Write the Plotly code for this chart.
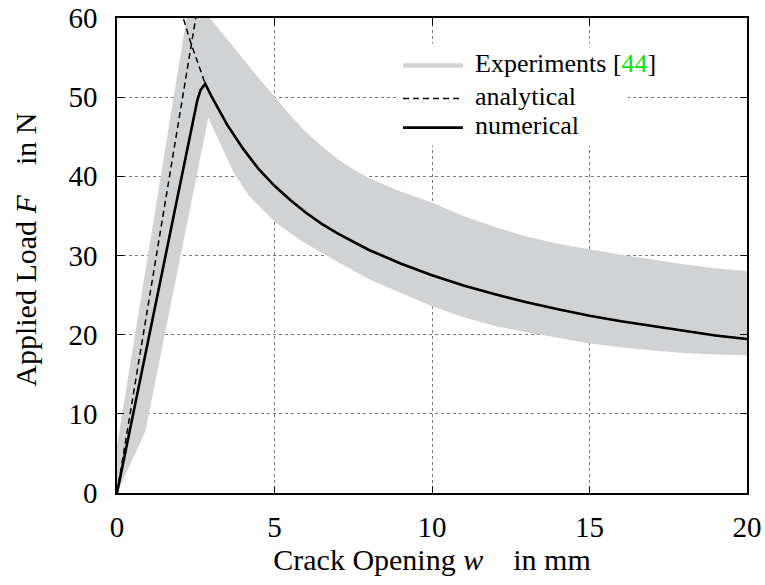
import plotly.graph_objects as go

# ---- data ----
# experimental band: upper edge (x ascending) and lower edge (x descending)
band_upper_w = [0.0, 2.45, 2.95, 3.5, 4.0, 4.5, 5.0, 5.5, 6.0, 6.5, 7.0, 7.5, 8.0, 9.0, 10.0, 11.0, 12.0, 13.0, 14.0, 15.0, 16.0, 17.0, 18.0, 19.0, 20.0]
band_upper_F = [6.0, 66.0, 60.0, 57.3, 54.8, 52.4, 50.1, 47.7, 45.6, 43.8, 42.2, 40.9, 39.8, 38.1, 36.7, 35.0, 33.6, 32.4, 31.5, 30.8, 30.1, 29.5, 28.9, 28.4, 28.0]
band_lower_w = [20.0, 19.0, 18.0, 17.0, 16.0, 15.0, 14.0, 13.0, 12.0, 11.0, 10.0, 9.0, 8.0, 7.0, 6.0, 5.5, 5.0, 4.2, 3.7, 3.2, 2.9, 0.9, 0.0]
band_lower_F = [17.4, 17.5, 17.7, 18.0, 18.4, 18.9, 19.6, 20.3, 21.1, 22.2, 23.6, 25.3, 27.0, 29.2, 31.5, 32.8, 34.3, 37.5, 40.5, 44.8, 47.4, 7.8, 0.0]

# softening branch shared by both models after the peak
post_peak_w = [3.0, 3.25, 3.5, 4.0, 4.5, 5.0, 5.5, 6.0, 6.5, 7.0, 7.5, 8.0, 9.0, 10.0, 11.0, 12.0, 13.0, 14.0, 15.0, 16.0, 17.0, 18.0, 19.0, 20.0]
post_peak_F = [50.1, 48.2, 46.5, 43.5, 40.9, 38.8, 37.0, 35.4, 34.0, 32.8, 31.7, 30.7, 29.0, 27.5, 26.2, 25.1, 24.1, 23.2, 22.4, 21.7, 21.1, 20.5, 19.9, 19.45]

# analytical: rising branch, then (after a gap) the softening branch
analytical_w = [0.0, 2.55, None, 1.95, 2.08, 2.34, 2.55, 2.8] + post_peak_w
analytical_F = [0.0, 61.2, None, 62.3, 60.3, 56.9, 54.5, 51.7] + post_peak_F

# numerical
numerical_w = [0.0, 2.55, 2.65, 2.8] + post_peak_w
numerical_F = [0.0, 49.6, 50.9, 51.7] + post_peak_F

x_ticks = [0, 5, 10, 15, 20]
y_ticks = [0, 10, 20, 30, 40, 50, 60]

FONT = "Liberation Serif"
GRAY = "rgb(209,210,212)"

fig = go.Figure()

fig.add_trace(go.Scatter(
    x=band_upper_w + band_lower_w, y=band_upper_F + band_lower_F,
    fill="toself", fillcolor=GRAY, mode="lines", line=dict(width=0, color=GRAY),
    name="Experiments", showlegend=False, hoverinfo="skip"))

fig.add_trace(go.Scatter(
    x=analytical_w, y=analytical_F, mode="lines",
    line=dict(color="black", width=1.5, dash="6px,4px"),
    name="analytical", showlegend=False, connectgaps=False))

fig.add_trace(go.Scatter(
    x=numerical_w, y=numerical_F, mode="lines",
    line=dict(color="black", width=2.6),
    name="numerical", showlegend=False))

axis_common = dict(
    showline=True, linecolor="black", linewidth=1.5, mirror="ticks",
    ticks="inside", ticklen=7, tickwidth=1, tickcolor="black",
    showgrid=True, gridcolor="rgb(120,120,120)", gridwidth=1, griddash="dot",
    zeroline=False, ticklabeloverflow="allow",
    tickfont=dict(family=FONT, size=29, color="black"),
)

fig.update_xaxes(range=[0, 20], tickvals=x_ticks, ticklabelstandoff=7,
                 title=dict(text="Crack Opening <i>w</i>\u2003in mm",
                            font=dict(family=FONT, size=30, color="black"), standoff=6),
                 **axis_common)
fig.update_yaxes(range=[0, 60], tickvals=y_ticks, ticklabelstandoff=12,
                 **axis_common)

# plot area in page pixels: x 117..747, y 18.5..493
def px_x(p):
    return (p - 117) / 630.0

def px_y(p):
    return (493 - p) / 474.5

shapes = [
    dict(type="rect", xref="paper", yref="paper", x0=px_x(396), x1=px_x(628),
         y0=px_y(146), y1=px_y(44), fillcolor="white", line=dict(width=0), layer="above"),
    dict(type="line", xref="paper", yref="paper", x0=px_x(403), x1=px_x(463),
         y0=px_y(66), y1=px_y(66), line=dict(color=GRAY, width=4.5), layer="above"),
    dict(type="line", xref="paper", yref="paper", x0=px_x(403), x1=px_x(463),
         y0=px_y(99), y1=px_y(99), line=dict(color="black", width=1.5, dash="6px,4px"), layer="above"),
    dict(type="line", xref="paper", yref="paper", x0=px_x(403), x1=px_x(463),
         y0=px_y(128), y1=px_y(128), line=dict(color="black", width=2.6), layer="above"),
]
labels = [("Experiments [<span style='color:#00e600'>44</span>]", 64),
          ("analytical", 97), ("numerical", 126)]
annotations = [dict(xref="paper", yref="paper", x=px_x(473), y=px_y(py), text=t,
                    showarrow=False, xanchor="left", yanchor="middle",
                    font=dict(family=FONT, size=26, color="black"))
               for t, py in labels]
# y-axis title
annotations.append(dict(xref="paper", yref="paper", x=px_x(26), y=px_y(250),
                        text="Applied Load <i>F</i>\u2003in N", textangle=-90,
                        showarrow=False, xanchor="center", yanchor="middle",
                        font=dict(family=FONT, size=30, color="black")))

fig.update_layout(
    width=765, height=585,
    margin=dict(l=117, r=18, t=18, b=92, autoexpand=False),
    paper_bgcolor="white", plot_bgcolor="white",
    showlegend=False, shapes=shapes, annotations=annotations,
)

fig.write_html(
    "out.html",
    config={"displayModeBar": False},
    post_script="document.body.style.margin='0';document.body.style.overflow='hidden';"
                "document.documentElement.style.overflow='hidden';",
)
